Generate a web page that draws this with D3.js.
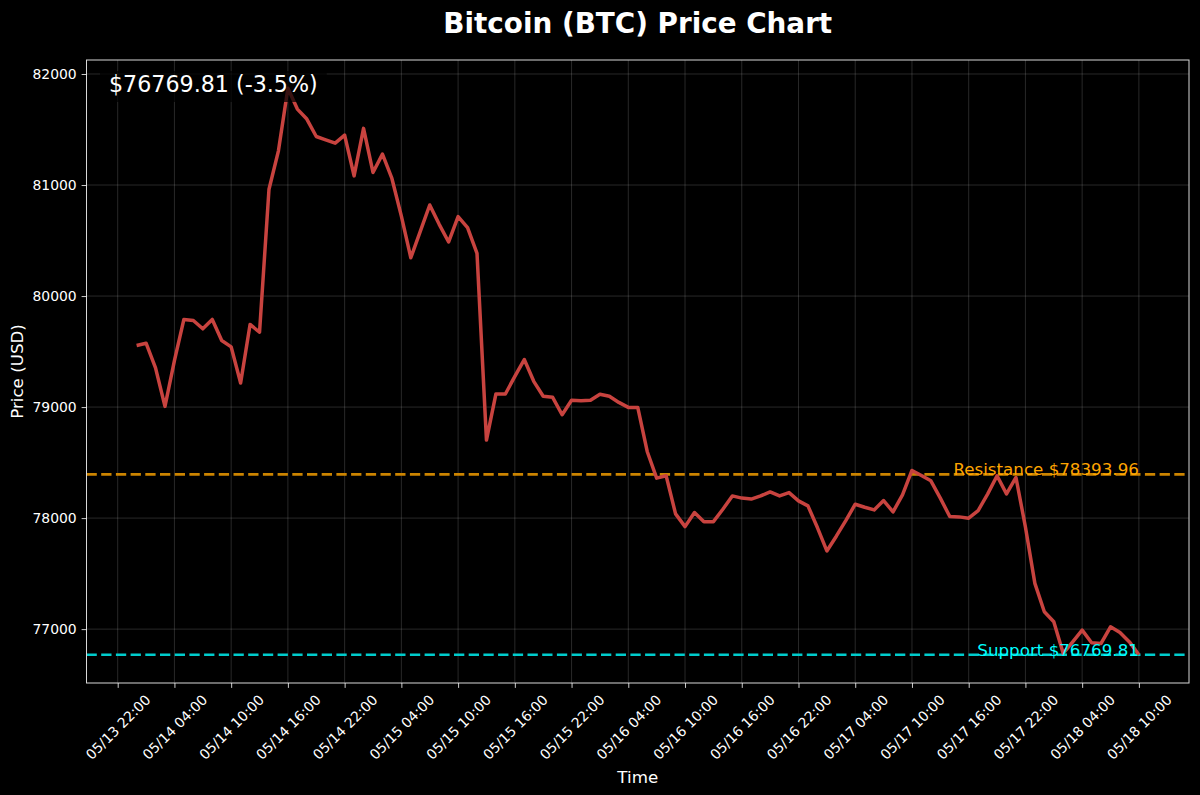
<!DOCTYPE html>
<html>
<head>
<meta charset="utf-8">
<script src="https://cdnjs.cloudflare.com/ajax/libs/d3/7.8.5/d3.min.js"></script>
<style>
  html, body { margin: 0; padding: 0; background: #000; }
  svg { display: block; }
  text { font-family: "DejaVu Sans", sans-serif; }
</style>
</head>
<body>
<svg id="chart" width="1200" height="795"></svg>
<script>
// ---------------- DATA ----------------
const title = "Bitcoin (BTC) Price Chart";
const startTime = "2025/05/14 00:00";   // first hourly sample
const prices = [
  79554, 79575, 79353, 79006, 79419, 79789, 79780, 79705, 79789, 79599,
  79542, 79217, 79744, 79674, 80962, 81308, 81871, 81684, 81594, 81437,
  81407, 81377, 81449, 81082, 81510, 81113, 81278, 81059, 80720, 80345,
  80583, 80820, 80646, 80487, 80716, 80616, 80384, 78703, 79118, 79118,
  79277, 79428, 79232, 79097, 79088, 78931, 79061, 79058, 79061, 79115,
  79097, 79042, 78997, 78997, 78600, 78360, 78382, 78038, 77923, 78050,
  77968, 77968, 78080, 78200, 78180, 78171, 78200, 78236, 78200, 78230,
  78155, 78110, 77915, 77704, 77837, 77977, 78125, 78098, 78074, 78158,
  78056, 78209, 78429, 78384, 78336, 78180, 78014, 78011, 77999, 78068,
  78216, 78381, 78218, 78366, 77920, 77412, 77156, 77066, 76781, 76885,
  76991, 76877, 76871, 77021, 76970, 76885, 76769.81
];
const resistance = 78393.96;
const support = 76769.81;
const changePct = -3.5;
const xTickLabels = [
  "05/13 22:00", "05/14 04:00", "05/14 10:00", "05/14 16:00", "05/14 22:00",
  "05/15 04:00", "05/15 10:00", "05/15 16:00", "05/15 22:00", "05/16 04:00",
  "05/16 10:00", "05/16 16:00", "05/16 22:00", "05/17 04:00", "05/17 10:00",
  "05/17 16:00", "05/17 22:00", "05/18 04:00", "05/18 10:00"
];
const yTicks = [77000, 78000, 79000, 80000, 81000, 82000];
const year = "2025";

// ---------------- LAYOUT ----------------
const W = 1200, H = 795;
const plot = { left: 86.5, right: 1189, top: 60, bottom: 683 };

const parse = d3.utcParse("%Y/%m/%d %H:%M");
const t0 = parse(startTime);
const data = prices.map((p, i) => ({ t: d3.utcHour.offset(t0, i), p }));
const tickDates = xTickLabels.map(s => parse(year + "/" + s));
const fmt = d3.utcFormat("%m/%d %H:%M");

const tExt = d3.extent(data, d => d.t);
const span = tExt[1] - tExt[0];
const x = d3.scaleUtc()
  .domain([new Date(+tExt[0] - span * 0.05), new Date(+tExt[1] + span * 0.05)])
  .range([plot.left, plot.right]);

const pMin = d3.min(prices.concat([support]));
const pMax = d3.max(prices.concat([resistance]));
const pPad = (pMax - pMin) * 0.05;
const y = d3.scaleLinear()
  .domain([pMin - pPad, pMax + pPad])
  .range([plot.bottom, plot.top]);

const svg = d3.select("#chart");
svg.append("rect").attr("width", W).attr("height", H).attr("fill", "#000");

// clip
svg.append("clipPath").attr("id", "clip")
  .append("rect").attr("x", plot.left).attr("y", plot.top)
  .attr("width", plot.right - plot.left).attr("height", plot.bottom - plot.top);

// grid
const grid = svg.append("g");
grid.selectAll("line.gx").data(tickDates).enter().append("line")
  .attr("x1", d => x(d)).attr("x2", d => x(d))
  .attr("y1", plot.top).attr("y2", plot.bottom)
  .attr("stroke", "#ffffff").attr("stroke-opacity", 0.2).attr("stroke-width", 0.8);
grid.selectAll("line.gy").data(yTicks).enter().append("line")
  .attr("y1", d => y(d)).attr("y2", d => y(d))
  .attr("x1", plot.left).attr("x2", plot.right)
  .attr("stroke", "#ffffff").attr("stroke-opacity", 0.2).attr("stroke-width", 0.8);

// resistance & support lines
const levels = svg.append("g").attr("clip-path", "url(#clip)");
levels.append("line")
  .attr("x1", plot.left).attr("x2", plot.right)
  .attr("y1", y(resistance)).attr("y2", y(resistance))
  .attr("stroke", "#cc8400").attr("stroke-width", 2.6)
  .attr("stroke-dasharray", "10.3,4.4");
levels.append("line")
  .attr("x1", plot.left).attr("x2", plot.right)
  .attr("y1", y(support)).attr("y2", y(support))
  .attr("stroke", "#00cccc").attr("stroke-width", 2.6)
  .attr("stroke-dasharray", "10.3,4.4");

// price line
const line = d3.line().x(d => x(d.t)).y(d => y(d.p));
svg.append("path").datum(data)
  .attr("clip-path", "url(#clip)")
  .attr("d", line)
  .attr("fill", "none")
  .attr("stroke", "#c8433f")
  .attr("stroke-width", 3.5)
  .attr("stroke-linejoin", "round")
  .attr("stroke-linecap", "butt");

// level labels
const lastT = data[data.length - 1].t;
svg.append("text")
  .attr("x", x(lastT)).attr("y", y(resistance) + 1)
  .attr("text-anchor", "end")
  .attr("font-size", 16.7).attr("fill", "#ffa500")
  .text("Resistance $" + resistance.toFixed(2));
svg.append("text")
  .attr("x", x(lastT)).attr("y", y(support) + 1)
  .attr("text-anchor", "end")
  .attr("font-size", 16.7).attr("fill", "#00ffff")
  .text("Support $" + support.toFixed(2));

// current price annotation with box
const annG = svg.append("g");
const annText = annG.append("text")
  .attr("x", 109).attr("y", 92)
  .attr("font-size", 22.2).attr("fill", "#ffffff")
  .text("$" + prices[prices.length - 1].toFixed(2) + " (" + changePct.toFixed(1) + "%)");
const bb = annText.node().getBBox();
annG.insert("rect", "text")
  .attr("x", bb.x - 9).attr("y", 71)
  .attr("width", bb.width + 18).attr("height", 31)
  .attr("fill", "#000").attr("fill-opacity", 0.72);

// spines
svg.append("rect")
  .attr("x", plot.left).attr("y", plot.top)
  .attr("width", plot.right - plot.left).attr("height", plot.bottom - plot.top)
  .attr("fill", "none").attr("stroke", "#d8d8d8").attr("stroke-width", 1);

// y axis
const yAxis = d3.axisLeft(y).tickValues(yTicks).tickSize(4.9).tickPadding(4.9).tickFormat(d3.format("d"));
const yG = svg.append("g").attr("transform", `translate(${plot.left},0)`).call(yAxis);
yG.select(".domain").remove();
yG.selectAll(".tick line").attr("stroke", "#fff").attr("stroke-width", 0.8);
yG.selectAll(".tick text").attr("fill", "#fff").attr("font-size", 13.9)
  .attr("font-family", "DejaVu Sans");

// x axis
const xAxis = d3.axisBottom(x).tickValues(tickDates).tickSize(4.9).tickFormat(fmt);
const xG = svg.append("g").attr("transform", `translate(0,${plot.bottom})`).call(xAxis);
xG.select(".domain").remove();
xG.selectAll(".tick line").attr("stroke", "#fff").attr("stroke-width", 0.8);
xG.selectAll(".tick text").each(function () {
  const t = d3.select(this);
  t.attr("fill", "#fff").attr("font-size", 13.9).attr("font-family", "DejaVu Sans")
   .attr("dy", null).attr("y", 0)
   .attr("text-anchor", "middle").attr("dominant-baseline", "central");
  const w = this.getComputedTextLength();
  const h = 13.9 * 1.17;
  const bh = (w + h) * Math.SQRT1_2;
  const cy = 4.9 + 3.5 + bh / 2;
  t.attr("transform", `translate(0,${cy}) rotate(-45)`);
});

// axis labels
svg.append("text")
  .attr("x", (plot.left + plot.right) / 2).attr("y", 783)
  .attr("text-anchor", "middle").attr("font-size", 16.7).attr("fill", "#fff")
  .text("Time");
svg.append("text")
  .attr("transform", `translate(23,${(plot.top + plot.bottom) / 2}) rotate(-90)`)
  .attr("text-anchor", "middle").attr("font-size", 16.7).attr("fill", "#fff")
  .text("Price (USD)");

// title
svg.append("text")
  .attr("x", (plot.left + plot.right) / 2).attr("y", 33)
  .attr("text-anchor", "middle").attr("font-size", 27.8).attr("font-weight", "bold")
  .attr("fill", "#fff")
  .text(title);
</script>
</body>
</html>
